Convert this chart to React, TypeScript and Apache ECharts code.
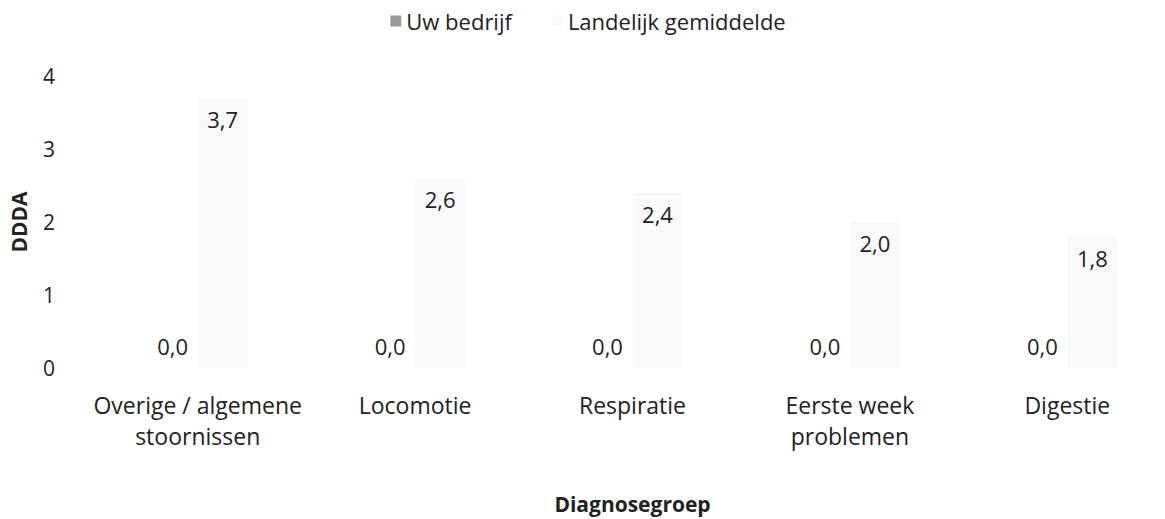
import React, { useEffect, useRef } from "react";
import * as echarts from "echarts";

const categories = [
  "Overige / algemene\nstoornissen",
  "Locomotie",
  "Respiratie",
  "Eerste week\nproblemen",
  "Digestie",
];
const seriesNames = ["Uw bedrijf", "Landelijk gemiddelde"];
const uwBedrijf = [0.0, 0.0, 0.0, 0.0, 0.0];
const landelijk = [3.7, 2.6, 2.4, 2.0, 1.8];

const FONT = "'Open Sans', sans-serif";
const fmt = (v: number) => v.toFixed(1).replace(".", ",");

export default function App() {
  const ref = useRef<HTMLDivElement>(null);
  useEffect(() => {
    document.body.style.margin = "0";
    document.body.style.overflow = "hidden";
    const chart = echarts.init(ref.current!, null, { renderer: "svg" });
    chart.setOption({
      animation: false,
      backgroundColor: "#ffffff",
      textStyle: { fontFamily: FONT, color: "#222" },
      legend: {
        top: 5,
        left: "center",
        icon: "rect",
        itemWidth: 11,
        itemHeight: 11,
        itemGap: 40,
        textStyle: { fontFamily: FONT, fontSize: 22, color: "#222" },
        data: seriesNames,
      },
      grid: { left: 87, right: 0, top: 76, bottom: 150, containLabel: false },
      xAxis: {
        type: "category",
        data: categories,
        axisLine: { show: false },
        axisTick: { show: false },
        axisLabel: {
          fontFamily: FONT,
          fontSize: 23,
          color: "#222",
          margin: 21,
          lineHeight: 31,
          interval: 0,
        },
        name: "Diagnosegroep",
        nameLocation: "middle",
        nameGap: 125,
        nameTextStyle: { fontFamily: FONT, fontSize: 21, fontWeight: "bold", color: "#222" },
      },
      yAxis: {
        type: "value",
        min: 0,
        max: 4,
        interval: 1,
        axisLine: { show: false },
        axisTick: { show: false },
        splitLine: { show: false },
        axisLabel: { fontFamily: FONT, fontSize: 21, color: "#222", margin: 34 },
        name: "DDDA",
        nameLocation: "middle",
        nameGap: 60,
        nameTextStyle: { fontFamily: FONT, fontSize: 21, fontWeight: "bold", color: "#222" },
      },
      series: [
        {
          name: seriesNames[0],
          type: "bar",
          data: uwBedrijf,
          barWidth: 50,
          barGap: "0%",
          itemStyle: { color: "#9a9a9a" },
          label: {
            show: true,
            position: "top",
            distance: 11,
            formatter: (p: any) => fmt(p.value),
            fontFamily: FONT,
            fontSize: 22,
            color: "#222",
          },
        },
        {
          name: seriesNames[1],
          type: "bar",
          data: landelijk,
          barWidth: 50,
          barGap: "0%",
          itemStyle: { color: "#f9f9fb" },
          label: {
            show: true,
            position: "insideTop",
            distance: 10,
            formatter: (p: any) => fmt(p.value),
            fontFamily: FONT,
            fontSize: 22,
            color: "#222",
          },
        },
      ],
    });
    return () => chart.dispose();
  }, []);
  return <div ref={ref} style={{ width: 1176, height: 519 }} />;
}
